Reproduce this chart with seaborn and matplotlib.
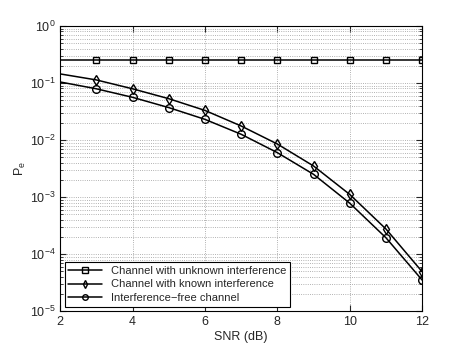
import numpy as np
import pandas as pd
import seaborn as sns
import matplotlib.pyplot as plt

# valores (SNR em dB, probabilidade de erro)
snr = [2, 3, 4, 5, 6, 7, 8, 9, 10, 11, 12]
pe_unknown = [0.25, 0.25, 0.25, 0.25, 0.25, 0.25, 0.25, 0.25, 0.25, 0.25, 0.25]
pe_known = [0.144, 0.113, 0.079, 0.053, 0.033, 0.0176, 0.0085, 0.0035, 0.00111, 0.000275, 4.9e-5]
pe_free = [0.104, 0.079, 0.056, 0.037, 0.023, 0.0126, 0.006, 0.0025, 0.00078, 0.000193, 3.5e-5]
series_names = ['Channel with unknown interference',
                'Channel with known interference',
                'Interference\u2212free channel']
marker_list = ['s', 'd', 'o']
marker_sizes = [4.5, 5.5, 5.5]

df = pd.DataFrame({
    'SNR': snr * 3,
    'Pe': pe_unknown + pe_known + pe_free,
    'Serie': [series_names[0]] * len(snr) + [series_names[1]] * len(snr) + [series_names[2]] * len(snr),
})

sns.set_style("ticks")
plt.rcParams['font.family'] = ['Liberation Sans', 'DejaVu Sans']
plt.rcParams['mathtext.fontset'] = 'custom'
plt.rcParams['mathtext.rm'] = 'Liberation Sans'
plt.rcParams['mathtext.it'] = 'Liberation Sans'

fig, ax = plt.subplots(figsize=(4.66, 3.5), dpi=100)
fig.subplots_adjust(left=0.129, right=0.906, top=0.926, bottom=0.111)

for name, mk, ms in zip(series_names, marker_list, marker_sizes):
    sub = df[df['Serie'] == name]
    sns.lineplot(data=sub, x='SNR', y='Pe', ax=ax, color='black', linewidth=1.1,
                 marker=mk, markersize=ms, markerfacecolor='none',
                 markeredgecolor='black', markeredgewidth=1.0,
                 markevery=list(range(1, len(snr))), label=name)

ax.set_yscale('log')
ax.set_xlim(2, 12)
ax.set_ylim(1e-5, 1)
ax.set_xticks([2, 4, 6, 8, 10, 12])
ax.set_xlabel('SNR (dB)', fontsize=9, labelpad=2)
ax.set_ylabel('P$_e$', fontsize=9, labelpad=1)

ax.grid(True, which='major', linestyle=':', color='#999999', linewidth=0.6)
ax.grid(True, which='minor', axis='y', linestyle=':', color='#999999', linewidth=0.6)
ax.tick_params(which='both', direction='in', top=True, right=True, labelsize=9)
ax.tick_params(which='major', length=4)
ax.tick_params(which='minor', length=2)
for sp in ax.spines.values():
    sp.set_linewidth(0.8)
    sp.set_color('black')

leg = ax.legend(loc='lower left', fontsize=8, frameon=True, fancybox=False,
                edgecolor='black', framealpha=1, borderaxespad=0.4,
                handlelength=3, labelspacing=0.3, borderpad=0.35)
leg.get_frame().set_linewidth(0.8)
for h in leg.legend_handles:
    h.set_markersize(4)

plt.savefig('out.png', dpi=100, facecolor='white')
